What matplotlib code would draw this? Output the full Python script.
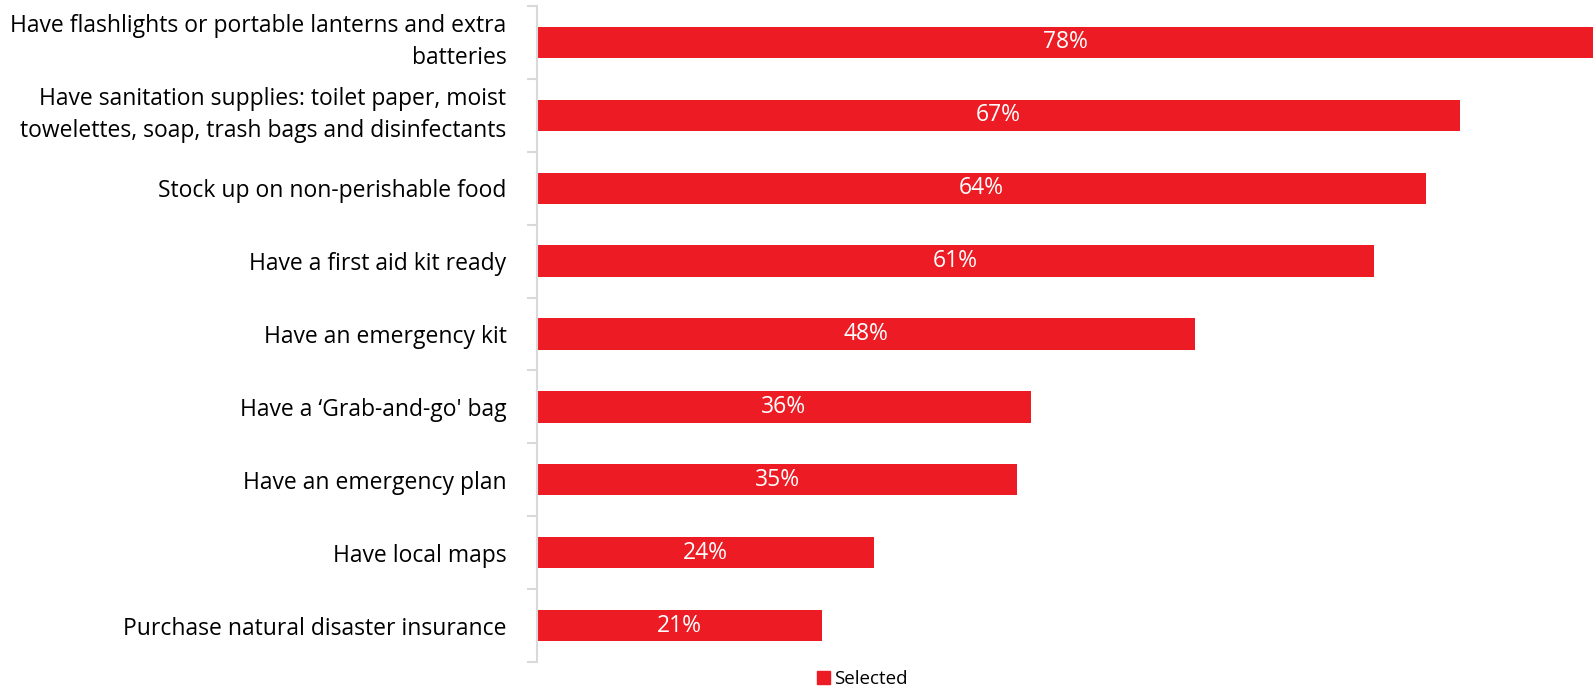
import matplotlib
matplotlib.use("Agg")
import matplotlib.pyplot as plt
from matplotlib.patches import Patch
import numpy as np

categories = [
    "Have flashlights or portable lanterns and extra\nbatteries",
    "Have sanitation supplies: toilet paper, moist\ntowelettes, soap, trash bags and disinfectants",
    "Stock up on non-perishable food",
    "Have a first aid kit ready",
    "Have an emergency kit",
    "Have a \u2018Grab-and-go' bag",
    "Have an emergency plan",
    "Have local maps",
    "Purchase natural disaster insurance",
]
values = [78, 67.3, 64.8, 61, 48, 36, 35, 24.6, 20.8]
value_labels = ["78%", "67%", "64%", "61%", "48%", "36%", "35%", "24%", "21%"]
series_name = "Selected"

red = "#ED1C24"
plt.rcParams['font.family'] = ['Open Sans', 'DejaVu Sans']

fig = plt.figure(figsize=(15.93, 6.88), dpi=100)
ax = fig.add_axes([537 / 1593, 26 / 688, 1 - 537 / 1593, 656 / 688])

y = np.arange(len(categories))
bars = ax.barh(y, values, height=0.43, color=red, zorder=2)
ax.set_ylim(len(categories) - 0.5, -0.5)
xmax = 77
ax.set_xlim(0, xmax)

for b, v, lab in zip(bars, values, value_labels):
    xc = min(v, xmax) / 2
    ax.text(xc, b.get_y() + b.get_height() / 2, lab, color="white",
            ha="center", va="center", fontsize=16.5)

ax.set_yticks(y)
ax.set_yticklabels(categories, fontsize=16.5, linespacing=1.45)
# two-line labels look better centred on the bar
for t in ax.get_yticklabels():
    if "\n" in t.get_text():
        t.set_va("center")
ax.tick_params(axis="y", which="major", length=0, pad=22)
ax.set_yticks(np.arange(-0.5, len(categories), 1), minor=True)
ax.tick_params(axis="y", which="minor", length=7, width=1.5, color="#D9D9D9")
ax.set_xticks([])

for s in ["top", "right", "bottom"]:
    ax.spines[s].set_visible(False)
ax.spines["left"].set_color("#D9D9D9")
ax.spines["left"].set_linewidth(1.5)

fig.legend(handles=[Patch(color=red, label=series_name)], loc="center",
           bbox_to_anchor=(862 / 1593, 1 - 679 / 688), frameon=False,
           fontsize=13.5, handlelength=0.7, handleheight=0.7, handletextpad=0.2)

fig.savefig("out.png", dpi=100)
